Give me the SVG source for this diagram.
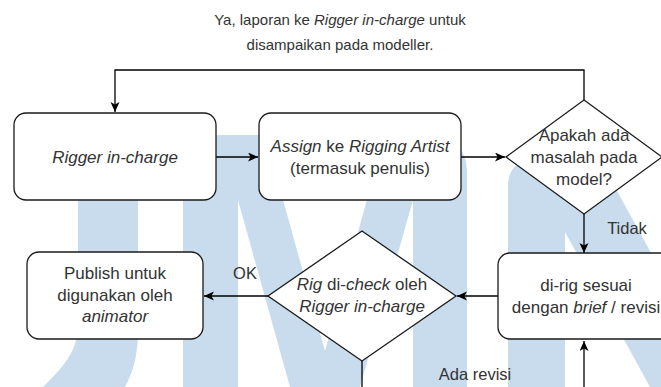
<svg xmlns="http://www.w3.org/2000/svg" width="661" height="387" viewBox="0 0 661 387">
<style>
.wm{fill:#c8dcee;stroke:none}
.n{fill:#ffffff;stroke:#1a1a1a;stroke-width:1.3}
.e{fill:none;stroke:#000000;stroke-width:1.3}
text{font-family:"Liberation Sans",Arial,Helvetica,sans-serif;font-size:17px;fill:#333333;text-anchor:middle}
.lbl{font-size:16.5px}
.top{font-size:15px}
.i{font-style:italic}
</style>
<defs>
<marker id="arr" markerUnits="userSpaceOnUse" markerWidth="11" markerHeight="10" refX="10" refY="4.5" orient="auto">
<path d="M0,0 L10,4.5 L0,9 L2.6,4.5 Z" fill="#000000"/>
</marker>
</defs>
<rect width="661" height="387" fill="#ffffff"/>
<g id="watermark">
<path class="wm" d="M78,150 H138 V330 C138,358 132,374 125,387 H43 C62,368 78,352 78,325 Z"/>
<path class="wm" d="M183,387 V172 C183,150 196,135 220,135 H265 L325,351 L385,135 H430 C454,135 467,150 467,172 V387 H413 V200 L360,387 H290 L238,200 V387 Z"/>
<path class="wm" d="M508,387 V186 C508,170 517,160 533,160 H600 L661,271 V387 H650 L565,232 V387 Z"/>
</g>
<g id="connectors">
<path class="e" d="M584,100 V70 H115 V112" marker-end="url(#arr)"/>
<path class="e" d="M216,157 H258" marker-end="url(#arr)"/>
<path class="e" d="M461,157 H505" marker-end="url(#arr)"/>
<path class="e" d="M584,214 V253" marker-end="url(#arr)"/>
<path class="e" d="M498,296 H457" marker-end="url(#arr)"/>
<path class="e" d="M268,296 H204" marker-end="url(#arr)"/>
<path class="e" d="M362,361 V387"/>
<path class="e" d="M584,387 V341" marker-end="url(#arr)"/>
<text x="340" y="25" class="top">Ya, laporan ke <tspan class="i">Rigger in-charge</tspan> untuk</text>
<text x="340" y="50" class="top">disampaikan pada modeller.</text>
<text x="627" y="234" class="lbl">Tidak</text>
<text x="245" y="279" class="lbl">OK</text>
<text x="475" y="380" class="lbl">Ada revisi</text>
</g>
<g id="rigger">
<rect class="n" x="14" y="113" width="202" height="87" rx="12"/>
<text x="115" y="163" class="i">Rigger in-charge</text>
</g>
<g id="assign">
<rect class="n" x="259" y="113" width="202" height="87" rx="12"/>
<text x="360" y="152"><tspan class="i">Assign</tspan> ke <tspan class="i">Rigging Artist</tspan></text>
<text x="360" y="174">(termasuk penulis)</text>
</g>
<g id="masalah">
<polygon class="n" points="584,100 662,157 584,214 506,157"/>
<text x="584" y="141">Apakah ada</text>
<text x="584" y="163">masalah pada</text>
<text x="584" y="185">model?</text>
</g>
<g id="dirig">
<rect class="n" x="498" y="253" width="176" height="86" rx="12"/>
<text x="586" y="291">di-rig sesuai</text>
<text x="586" y="313">dengan <tspan class="i">brief</tspan> / revisi</text>
</g>
<g id="check">
<polygon class="n" points="362,231 456,296 362,361 268,296"/>
<text x="362" y="290"><tspan class="i">Rig</tspan> di-<tspan class="i">check</tspan> oleh</text>
<text x="362" y="312" class="i">Rigger in-charge</text>
</g>
<g id="publish">
<rect class="n" x="27" y="252" width="176" height="87" rx="12"/>
<text x="115" y="279">Publish untuk</text>
<text x="115" y="301">digunakan oleh</text>
<text x="115" y="322" class="i">animator</text>
</g>
</svg>
